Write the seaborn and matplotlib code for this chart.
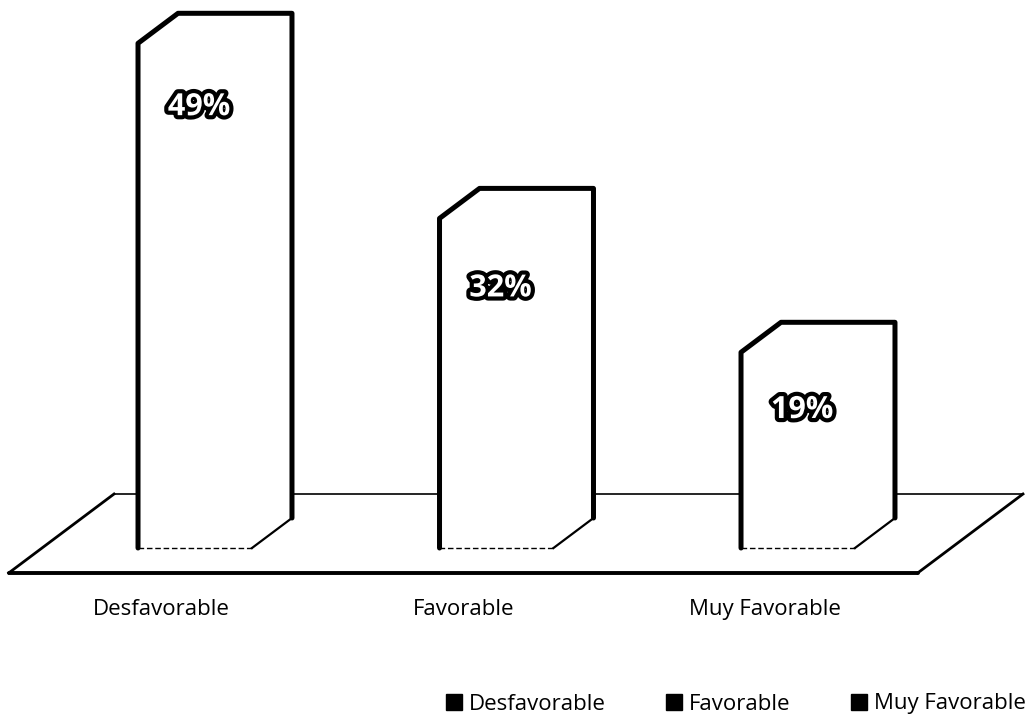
import matplotlib
matplotlib.use("Agg")
import matplotlib.pyplot as plt
import matplotlib.patheffects as pe
from matplotlib.patches import Polygon, Patch
import pandas as pd
import seaborn as sns

# Data
categories = ["Desfavorable", "Favorable", "Muy Favorable"]
values = [49, 32, 19]
value_labels = ["49%", "32%", "19%"]

# Layout (pixels on a 1031x719 canvas)
W, H, DPI = 1031, 719, 100
BASE_PX = 548          # screen row of the bars' front base
PX_PER_UNIT = 10.3     # vertical pixels per percentage point
STEP_PX = 301.5        # horizontal distance between categories
FIRST_CENTER_PX = 195  # screen column of the first bar's centre
BAR_WIDTH = 0.378
DEPTH_PX = (40, 30)    # oblique depth of the boxes (right, up)
FLOOR_FRONT_PX = 25    # floor reaches this far in front of the bars
FLOOR_BACK_PX = 24     # ... and this far behind them
FLOOR_SIDE_PX = 96     # lateral margin of the floor
LABEL_DROP = [6.2, 6.8, 5.6]  # value label offset below the bar top
CAT_LABEL_PX = 615     # baseline row of the category labels

plt.rcParams["font.family"] = ["Open Sans", "DejaVu Sans"]

fig = plt.figure(figsize=(W / DPI, H / DPI), dpi=DPI)
ax = fig.add_axes([0, 0, 1, 1])

df = pd.DataFrame({"categoria": categories, "porcentaje": values})
sns.barplot(data=df, x="categoria", y="porcentaje", order=categories,
            color="white", saturation=1, width=BAR_WIDTH,
            edgecolor="none", linewidth=0, ax=ax, zorder=3)

ax.set_xlim(-FIRST_CENTER_PX / STEP_PX, (W - FIRST_CENTER_PX) / STEP_PX)
ax.set_ylim(-(H - BASE_PX) / PX_PER_UNIT, BASE_PX / PX_PER_UNIT)
ax.axis("off")

ddx = DEPTH_PX[0] / STEP_PX
ddy = DEPTH_PX[1] / PX_PER_UNIT
slope = DEPTH_PX[0] / DEPTH_PX[1]


def depth_shift(t_px):
    """Data offset for moving t_px (screen rows) into the depth of the scene."""
    return t_px * slope / STEP_PX, t_px / PX_PER_UNIT


bars = sorted(ax.patches, key=lambda p: p.get_x())

# Floor plane
left = bars[0].get_x() - FLOOR_SIDE_PX / STEP_PX
right = bars[-1].get_x() + bars[-1].get_width() + FLOOR_SIDE_PX / STEP_PX
fx, fy = depth_shift(-FLOOR_FRONT_PX)
bx, by = depth_shift(DEPTH_PX[1] + FLOOR_BACK_PX)
fl = (left + fx, fy)
fr = (right + fx, fy)
br = (right + bx, by)
bl = (left + bx, by)
ax.add_patch(Polygon([fl, fr, br, bl], closed=True, facecolor="white",
                     edgecolor="none", zorder=1))
ax.plot([fl[0], fr[0]], [fl[1], fr[1]], color="black", lw=2.8, zorder=2,
        solid_capstyle="round")
ax.plot([fl[0], bl[0]], [fl[1], bl[1]], color="black", lw=2.0, zorder=2)
ax.plot([bl[0], br[0]], [bl[1], br[1]], color="black", lw=1.2, zorder=2)
ax.plot([fr[0], br[0]], [fr[1], br[1]], color="black", lw=2.0, zorder=2)

# Boxes: white silhouettes with heavy outline, value label on the face
for p, drop, lab in zip(bars, LABEL_DROP, value_labels):
    x0, w, h = p.get_x(), p.get_width(), p.get_height()
    y0 = p.get_y()
    fbl = (x0, y0)
    fbr = (x0 + w, y0)
    bbr = (x0 + w + ddx, y0 + ddy)
    btr = (x0 + w + ddx, y0 + h + ddy)
    btl = (x0 + ddx, y0 + h + ddy)
    ftl = (x0, y0 + h)
    ax.add_patch(Polygon([fbl, fbr, bbr, btr, btl, ftl], closed=True,
                         facecolor="white", edgecolor="none", zorder=3))
    xs, ys = zip(fbl, ftl, btl, btr, bbr)
    ax.plot(xs, ys, color="black", lw=3.6, zorder=4,
            solid_joinstyle="round", solid_capstyle="round")
    ax.plot([bbr[0], fbr[0]], [bbr[1], fbr[1]], color="black", lw=1.6, zorder=4)
    ax.plot([fbr[0], fbl[0]], [fbr[1], fbl[1]], color="black", lw=1.0,
            ls=(0, (4, 2)), zorder=4)

    cx = x0 + w / 2 + 4 / STEP_PX
    ax.text(cx, h - drop, lab, ha="center", va="center", fontsize=22,
            fontweight="bold", color="white", zorder=6,
            path_effects=[pe.withStroke(linewidth=6, foreground="black")])

# Category labels on the front edge of the floor
for p, name in zip(bars, categories):
    lx = p.get_x() + p.get_width() / 2 + fx
    ax.text(lx, (BASE_PX - CAT_LABEL_PX) / PX_PER_UNIT, name, ha="center",
            va="baseline", fontsize=16, color="black", zorder=6)

# Legend with black square keys
handles = [Patch(facecolor="black", edgecolor="black") for _ in categories]
fig.legend(handles, categories, loc="center left",
           bbox_to_anchor=(446 / W, 1 - 704 / H), ncol=3, frameon=False,
           fontsize=16, handlelength=0.72, handleheight=0.72,
           handletextpad=0.32, columnspacing=2.7, borderpad=0,
           borderaxespad=0)

fig.savefig("out.png", dpi=DPI, facecolor="white")
